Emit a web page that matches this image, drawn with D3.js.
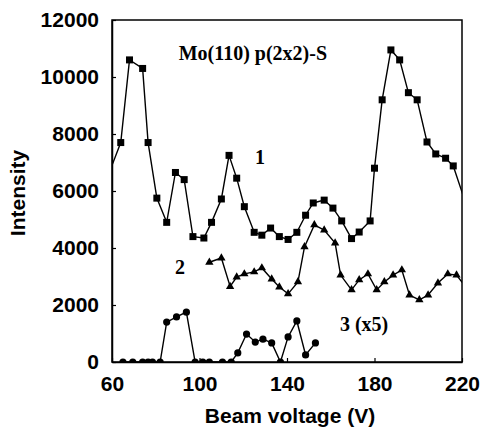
<!DOCTYPE html>
<html>
<head>
<meta charset="utf-8">
<script src="https://cdn.jsdelivr.net/npm/d3@7"></script>
<style>
  body { margin: 0; background: #fff; }
  svg { display: block; }
</style>
</head>
<body>
<div id="chart"></div>
<script>
// values (beam voltage V, intensity)
var series1 = [
  [59, 6700], [64, 7700], [68, 10600], [74, 10300], [76.5, 7700], [80.5, 5750],
  [85, 4900], [89, 6650], [93, 6400], [97, 4400], [102, 4350], [105.5, 4900],
  [110, 5720], [113.5, 7250], [117, 6450], [120.5, 5450], [125, 4550], [128.5, 4450],
  [132.5, 4700], [136.5, 4400], [140.5, 4300], [144.5, 4550], [148.5, 5150], [152, 5580],
  [157, 5680], [161, 5400], [165, 4950], [169.5, 4330], [173, 4560], [178, 4950],
  [180, 6800], [183.5, 9200], [187.5, 10950], [191.5, 10600], [195.5, 9450], [199.5, 9200],
  [204, 7720], [208, 7300], [212.5, 7150], [216, 6880], [222, 5500]
];
var series2 = [
  [104.5, 3500], [110, 3650], [114, 2650], [117, 2980], [120.5, 3090], [125, 3160],
  [128.5, 3300], [133, 2910], [136.5, 2630], [140.5, 2390], [145, 2810], [148, 4040],
  [152.5, 4810], [157, 4630], [162, 4170], [164.5, 3050], [169.5, 2530], [173, 2880],
  [177, 3090], [181, 2530], [184.5, 2810], [188.5, 3050], [192.5, 3230], [196, 2350],
  [200.5, 2180], [204.5, 2350], [209, 2770], [213.5, 3090], [217.5, 3050], [221.5, 2650]
];
var series3 = [
  [65, 0], [69.5, 0], [74, 0], [76.5, 0], [78.5, 0], [82, 0], [85, 1400], [89.5, 1580],
  [94, 1750], [98, 0], [101.5, 0], [104.5, 0], [110.5, 0], [114.5, 0], [117.5, 320],
  [121.5, 980], [125.5, 700], [129, 800], [133, 670], [137, 0], [140.5, 880],
  [144.5, 1440], [148.5, 250], [153, 670]
];
var xTicks = [60, 100, 140, 180, 220];
var yTicks = [0, 2000, 4000, 6000, 8000, 10000, 12000];
// text labels inside the plot, placed in data units
var notes = [
  { text: "Mo(110) p(2x2)-S", x: 90.5, y: 10600 },
  { text: "1", x: 125.4, y: 6950 },
  { text: "2", x: 88.8, y: 3090 },
  { text: "3 (x5)", x: 164.2, y: 1090 }
];

var width = 482, height = 427;
var margin = { left: 112, right: 20, top: 20, bottom: 65 };

var svg = d3.select("#chart").append("svg")
  .attr("width", width)
  .attr("height", height);

var x = d3.scaleLinear().domain([60, 220]).range([margin.left, width - margin.right]);
var y = d3.scaleLinear().domain([0, 12000]).range([height - margin.bottom, margin.top]);

svg.append("defs").append("clipPath").attr("id", "plot")
  .append("rect")
  .attr("x", x(60)).attr("y", y(12000))
  .attr("width", x(220) - x(60)).attr("height", y(0) - y(12000));

// frame
svg.append("rect")
  .attr("x", x(60)).attr("y", y(12000))
  .attr("width", x(220) - x(60)).attr("height", y(0) - y(12000))
  .attr("fill", "none")
  .attr("stroke", "#000")
  .attr("stroke-width", 1.5);

var xAxis = svg.append("g")
  .attr("transform", "translate(0," + y(0) + ")")
  .call(d3.axisBottom(x).tickValues(xTicks).tickFormat(d3.format("d"))
    .tickSizeInner(-4).tickSizeOuter(0).tickPadding(14));
var yAxis = svg.append("g")
  .attr("transform", "translate(" + x(60) + ",0)")
  .call(d3.axisLeft(y).tickValues(yTicks).tickFormat(d3.format("d"))
    .tickSizeInner(-4).tickSizeOuter(0).tickPadding(13));

[xAxis, yAxis].forEach(function(a) {
  a.select(".domain").attr("stroke-width", 1.5);
  a.selectAll("line").attr("stroke-width", 1.2);
  a.selectAll("text")
    .attr("font-family", "'Liberation Sans', Arial, sans-serif")
    .attr("font-weight", "bold")
    .attr("font-size", 21)
    .attr("fill", "#000");
});

svg.append("text")
  .attr("x", (x(60) + x(220)) / 2 + 3)
  .attr("y", 423)
  .attr("text-anchor", "middle")
  .attr("font-family", "'Liberation Sans', Arial, sans-serif")
  .attr("font-weight", "bold")
  .attr("font-size", 21)
  .text("Beam voltage (V)");

svg.append("text")
  .attr("transform", "translate(25,193) rotate(-90)")
  .attr("text-anchor", "middle")
  .attr("font-family", "'Liberation Sans', Arial, sans-serif")
  .attr("font-weight", "bold")
  .attr("font-size", 21)
  .text("Intensity");

var line = d3.line()
  .x(function(d) { return x(d[0]); })
  .y(function(d) { return y(d[1]); });

var plot = svg.append("g").attr("clip-path", "url(#plot)");

[series1, series2, series3].forEach(function(s) {
  plot.append("path")
    .datum(s)
    .attr("d", line)
    .attr("fill", "none")
    .attr("stroke", "#000")
    .attr("stroke-width", 1.4);
});

var inside = function(d) { return d[0] >= 60 && d[0] <= 220; };

plot.selectAll(".sq")
  .data(series1.filter(inside))
  .enter().append("rect")
  .attr("class", "sq")
  .attr("x", function(d) { return x(d[0]) - 3.5; })
  .attr("y", function(d) { return y(d[1]) - 3.5; })
  .attr("width", 7).attr("height", 7)
  .attr("fill", "#000");

plot.selectAll(".tri")
  .data(series2.filter(inside))
  .enter().append("path")
  .attr("class", "tri")
  .attr("d", d3.symbol().type(d3.symbolTriangle).size(30))
  .attr("transform", function(d) { return "translate(" + x(d[0]) + "," + y(d[1]) + ")"; })
  .attr("fill", "#000");

plot.selectAll(".dot")
  .data(series3)
  .enter().append("circle")
  .attr("class", "dot")
  .attr("cx", function(d) { return x(d[0]); })
  .attr("cy", function(d) { return y(d[1]); })
  .attr("r", 3.6)
  .attr("fill", "#000");

svg.selectAll(".note")
  .data(notes)
  .enter().append("text")
  .attr("class", "note")
  .attr("x", function(d) { return x(d.x); })
  .attr("y", function(d) { return y(d.y); })
  .attr("font-family", "'Liberation Serif', 'Times New Roman', serif")
  .attr("font-weight", "bold")
  .attr("font-size", 20)
  .text(function(d) { return d.text; });
</script>
</body>
</html>
